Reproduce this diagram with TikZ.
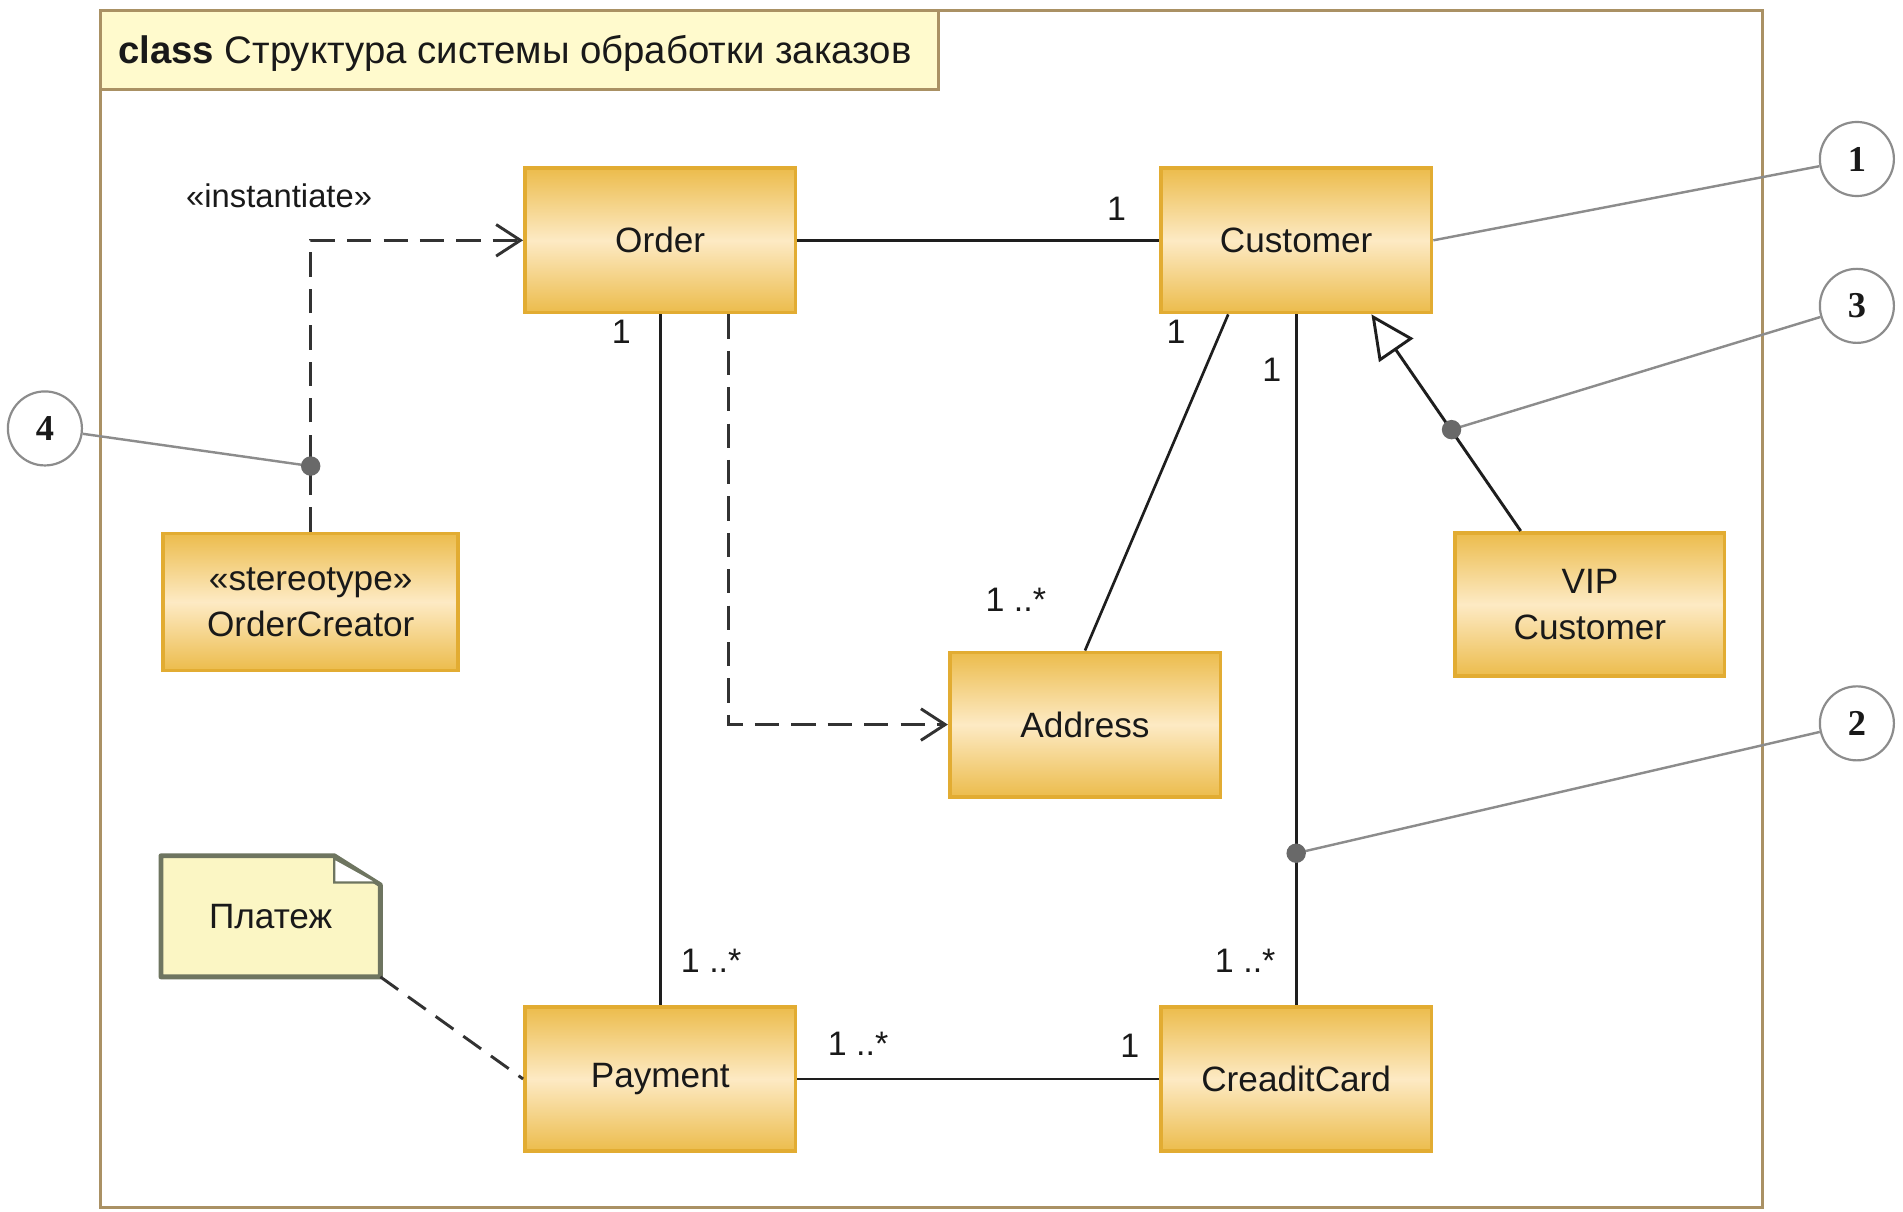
\documentclass[tikz,border=0pt]{standalone}
\usepackage{fontspec}
\setmainfont{Liberation Sans}
\newfontfamily\numfont{Liberation Serif}
\usetikzlibrary{arrows.meta,calc}
\definecolor{framec}{RGB}{170,145,100}
\definecolor{tabfill}{RGB}{255,250,205}
\definecolor{boxedge}{RGB}{236,188,76}
\definecolor{boxmid}{RGB}{253,234,196}
\definecolor{boxborder}{RGB}{226,172,50}
\definecolor{notefill}{RGB}{251,246,196}
\definecolor{noteborder}{RGB}{110,117,96}
\definecolor{linec}{RGB}{30,30,30}
\definecolor{dashc}{RGB}{50,50,50}
\definecolor{calloutc}{RGB}{140,140,140}
\definecolor{dotc}{RGB}{105,105,105}
\definecolor{circc}{RGB}{140,140,140}
\definecolor{textc}{RGB}{25,25,25}
\begin{document}
\begin{tikzpicture}[x=0.5pt,y=-0.5pt,
  classbox/.style={draw=boxborder, line width=1.5pt, top color=boxedge, bottom color=boxedge, middle color=boxmid,
    minimum width=111.5pt, minimum height=59.5pt, inner sep=2pt, align=center, text=textc,
    font=\fontsize{14.5}{19}\selectfont},
  mult/.style={font=\fontsize{14}{16}\selectfont, text=textc, inner sep=0pt},
  assoc/.style={draw=linec, line width=1.1pt},
  depend/.style={draw=dashc, line width=1.2pt, dash pattern=on 10pt off 5pt, -{Straight Barb[length=10pt,width=13pt,line width=1.2pt]}},
  notelink/.style={draw=dashc, line width=1.2pt, dash pattern=on 9pt off 5pt},
  general/.style={draw=linec, line width=1.2pt, -{Triangle[open,length=18pt,width=17pt,line width=1.2pt,fill=white]}},
  callline/.style={draw=calloutc, line width=1pt},
  calldot/.style={fill=dotc},
  callout/.style={circle, draw=circc, line width=0.9pt, fill=white, minimum size=30.5pt, inner sep=0pt, text=textc,
    font=\numfont\bfseries\fontsize{15}{16}\selectfont}
]
\useasboundingbox (0,0) rectangle (1568,998);
\fill[white] (0,0) rectangle (1568,998);

% frame
\draw[framec, line width=1.2pt] (83,9) rectangle (1452,995);
\draw[framec, line width=1.2pt, fill=tabfill] (83,9) rectangle (773,74);
\node[anchor=west, inner sep=0pt, text=textc, font=\fontsize{15.8}{18}\selectfont] (title) at (97,44)
  {\textbf{class} Структура системы обработки заказов};

% classes
\node[classbox] (order) at (544,198) {Order};
\node[classbox] (cust) at (1068,198) {Customer};
\node[classbox, minimum width=121.5pt, minimum height=56.5pt] (oc) at (256,496) {«stereotype»\\OrderCreator};
\node[classbox] (addr) at (894,597) {Address};
\node[classbox, minimum width=111pt, minimum height=59pt] (vip) at (1310,498) {VIP\\Customer};
\node[classbox] (pay) at (544,889) {Payment};
\node[classbox] (cc) at (1068,889) {CreaditCard};

% note
\node[minimum width=90pt, minimum height=49.5pt, inner sep=0pt] (note) at (223,755) {};
\draw[noteborder, line width=2pt, fill=notefill, line join=round]
  (note.south west) -- (note.north west) -- ($(note.north east)+(-38,0)$)
  -- ($(note.north east)+(0,24)$) -- (note.south east) -- cycle;
\draw[noteborder, line width=1pt, fill=white]
  ($(note.north east)+(-38,2)$) -- ($(note.north east)+(-38,22)$) -- ($(note.north east)+(-2,22)$) -- cycle;
\node[inner sep=0pt, text=textc, font=\fontsize{14.5}{18}\selectfont] (notetext) at (note) {Платеж};

% associations
\draw[assoc] (order.east) -- (cust.west);
\draw[assoc] (order.south) -- (pay.north);
\draw[assoc] (pay.east) -- (cc.west);
\draw[assoc] ($(cust.south)+(-56,0)$) -- (addr.north);
\draw[assoc] (cust.south) -- (cc.north);

% dependencies
\draw[depend] (oc.north) |- (order.west);
\draw[depend] ($(order.south)+(56,0)$) |- (addr.west);
\draw[notelink] (note.south east) -- (pay.west);

% generalization
\coordinate (vipTop) at ($(vip.north)+(-57,0)$);
\coordinate (custBot) at ($(cust.south)+(62,0)$);
\draw[general] (vipTop) -- (custBot);

% multiplicities
\node[mult] (m1) at (920,172) {1};
\node[mult] (m2) at (512,273) {1};
\node[mult] (m3) at (969,273) {1};
\node[mult] (m4) at (1048,305) {1};
\node[mult] (m5) at (837,494) {1 ..*};
\node[mult] (m6) at (586,792) {1 ..*};
\node[mult] (m7) at (1026,792) {1 ..*};
\node[mult] (m8) at (707,860) {1 ..*};
\node[mult] (m9) at (931,862) {1};

% instantiate label
\node[inner sep=0pt, text=textc, font=\fontsize{13.5}{16}\selectfont] (inst) at (230,161) {«instantiate»};

% callouts
\coordinate (d4) at (256,384);
\coordinate (d3) at (1196,354);
\coordinate (d2) at (1068,703);
\node[callout] (c1) at (1530,131) {1};
\node[callout] (c3) at (1530,252) {3};
\node[callout] (c2) at (1530,596) {2};
\node[callout] (c4) at (37,353) {4};
\draw[callline] (c1) -- (cust.east);
\draw[callline] (c3) -- (d3);
\draw[callline] (c2) -- (d2);
\draw[callline] (c4) -- (d4);
\fill[calldot] (d4) circle (4pt);
\fill[calldot] (d3) circle (4pt);
\fill[calldot] (d2) circle (4pt);
\end{tikzpicture}
\end{document}
